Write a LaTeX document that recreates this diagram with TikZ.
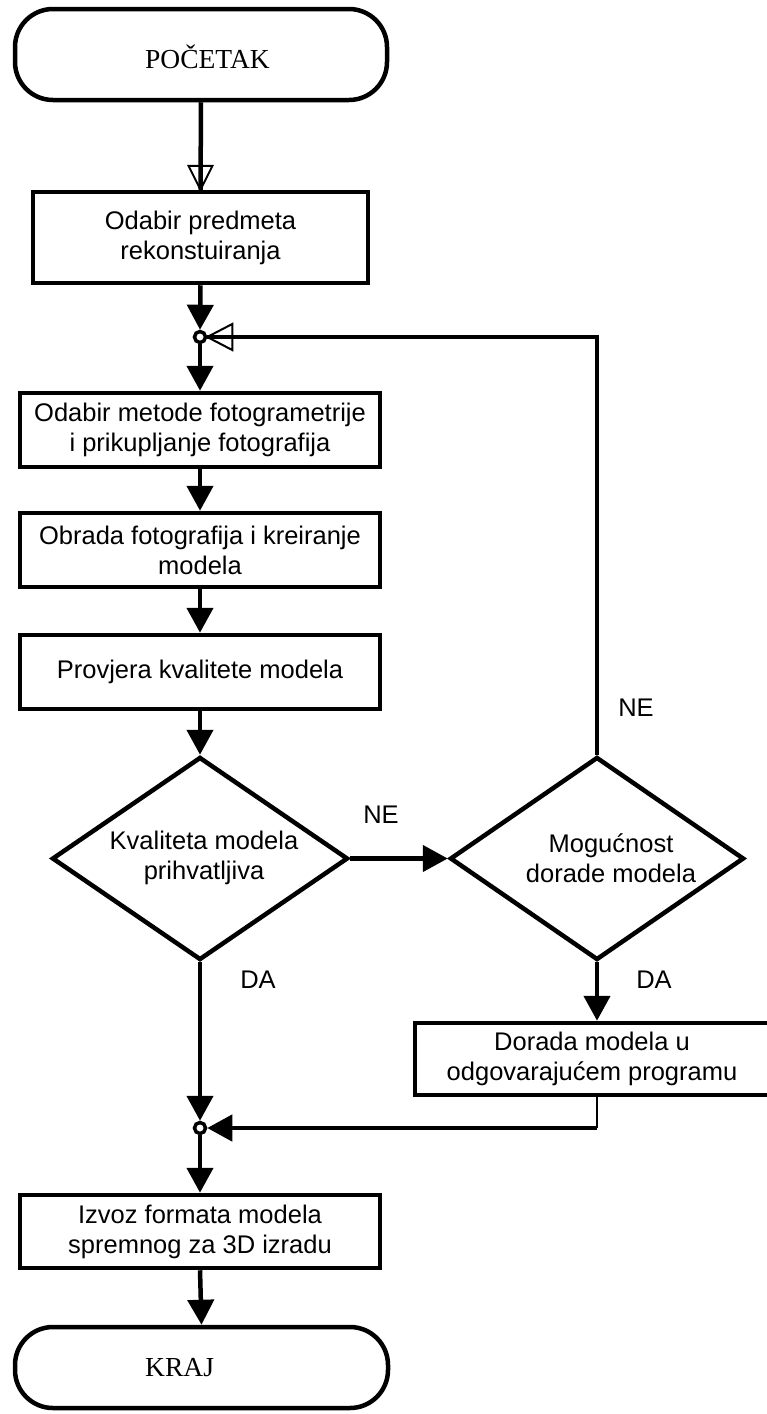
\documentclass[tikz,border=0pt]{standalone}
\usepackage{fontspec}
\setmainfont{Liberation Serif}
\setsansfont{Liberation Sans}
\usetikzlibrary{arrows.meta,shapes.geometric,calc}
\begin{document}
\begin{tikzpicture}[x=1pt,y=-1pt,
  sanst/.style={font=\sffamily\fontsize{25.5}{30}\selectfont},
  serift/.style={font=\rmfamily\fontsize{27.5}{30}\selectfont},
  proc/.style={draw,line width=4.5pt,rectangle,inner sep=0pt,align=center,sanst},
  term/.style={draw,line width=4.5pt,rectangle,rounded corners=38pt,inner sep=0pt},
  dec/.style={draw,line width=4.5pt,diamond,inner sep=0pt},
  junc/.style={circle,draw,line width=3.5pt,fill=white,minimum size=11pt,inner sep=0pt},
  thick line/.style={line width=4.5pt},
  arr/.style={line width=4.5pt,-{Triangle[length=25pt,width=26pt]}},
  openhead/.style={line width=2pt,line join=miter},
  thin line/.style={line width=1.5pt}
]
\useasboundingbox (0,0) rectangle (766,1414);

% terminators
\node[term,minimum width=372pt,minimum height=91pt] (start) at (201,54.5) {};
\node[serift,anchor=west,inner sep=0pt] (startt) at (145,57) {POČETAK};
\node[term,minimum width=373pt,minimum height=81pt] (end) at (201.5,1367.5) {};
\node[serift,anchor=west,inner sep=0pt] (endt) at (145,1368) {KRAJ};

% process boxes
\node[proc,minimum width=335pt,minimum height=91pt] (b1) at (200.5,237.5) {Odabir predmeta\\rekonstuiranja};
\node[proc,minimum width=360pt,minimum height=74pt] (b2) at (200,430) {Odabir metode fotogrametrije\\i prikupljanje fotografija};
\node[proc,minimum width=360pt,minimum height=74pt] (b3) at (200,550) {Obrada fotografija i kreiranje\\modela};
\node[proc,minimum width=360pt,minimum height=74pt] (b4) at (200,672) {Provjera kvalitete modela};
\node[proc,minimum width=360pt,minimum height=73pt] (b6) at (200,1231.5) {Izvoz formata modela\\spremnog za 3D izradu};
\node[proc,minimum width=354pt,minimum height=72pt] (dor) at (592,1059) {Dorada modela u\\odgovarajućem programu};

% decisions
\node[dec,minimum width=296pt,minimum height=203pt] (d1) at (200,858.5) {};
\node[sanst,align=center,inner sep=0pt] (d1t) at (204,858) {Kvaliteta modela\\prihvatljiva};
\node[dec,minimum width=294pt,minimum height=203pt] (d2) at (597,858.5) {};
\node[sanst,align=center,inner sep=0pt] (d2t) at (611,858) {Mogućnost\\dorade modela};

% junctions
\node[junc] (j1) at (200,337) {};
\node[junc] (j2) at (200,1128) {};
\coordinate (c1) at (d2.north |- j1);
\coordinate (c2) at (d2.south |- j2);

% labels
\node[sanst] (ne1) at (381,815) {NE};
\node[sanst] (ne2) at (636,708) {NE};
\node[sanst] (da1) at (258,980) {DA};
\node[sanst] (da2) at (654,980) {DA};

% connectors
\draw[thick line] (start.south) -- (b1.north);
\draw[openhead] ($(b1.north)+(-12,-24)$) -- (b1.north) -- ($(b1.north)+(12,-24)$) -- cycle;
\draw[arr] (b1.south) -- (j1.north);
\draw[arr] (j1.south) -- (b2.north);
\draw[arr] (b2.south) -- (b3.north);
\draw[arr] (b3.south) -- (b4.north);
\draw[arr] (b4.south) -- (d1.north);
\draw[arr] (d1.east) -- (d2.west);
\draw[thick line] (d2.north) -- (c1) -- (j1.east);
\draw[openhead] ($(j1.east)+(25,-13)$) -- (j1.east) -- ($(j1.east)+(25,13)$) -- cycle;
\draw[arr] (d2.south) -- (d2.south |- dor.north);
\draw[thin line] (dor.south -| c2) -- (c2);
\draw[arr] (c2) -- (j2.east);
\draw[arr] (d1.south) -- (j2.north);
\draw[arr] (j2.south) -- (b6.north);
\draw[arr] (b6.south) -- (end.north);
\end{tikzpicture}
\end{document}
